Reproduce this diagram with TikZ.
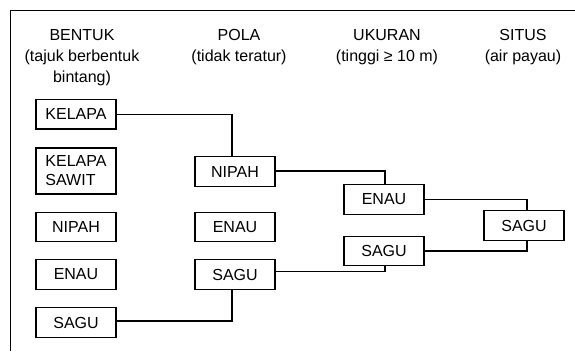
\documentclass[tikz,border=0pt]{standalone}
\usepackage{fontspec}
\setmainfont{Liberation Sans}
\begin{document}
\begin{tikzpicture}[x=1pt,y=-1pt,
  box/.style={draw, line width=1.2pt, minimum width=80pt, minimum height=29.5pt,
              inner sep=0pt, font=\fontsize{16}{19}\selectfont},
  head/.style={align=center, anchor=north, inner sep=0pt,
               font=\fontsize{16}{21}\selectfont},
  link/.style={line width=1.2pt}]
\useasboundingbox (0,0) rectangle (575,351);
% open frame: top and left edges only
\draw[line width=1.4pt] (575,10.5) -- (10.5,10.5) -- (10.5,351);

% column headers
\node[head] (hbentuk) at (82,29.5) {BENTUK\\(tajuk berbentuk\\bintang)};
\node[head] (hpola)   at (239,29.5) {POLA\\(tidak teratur)};
\node[head] (hukuran) at (387,29.5) {UKURAN\\(tinggi \char"2265{} 10 m)};
\node[head] (hsitus)  at (523,29.5) {SITUS\\(air payau)};

% column 1
\node[box] (b1kelapa) at (76,114.3) {KELAPA};
\node[box, minimum height=46pt, align=left] (b1sawit) at (76,171) {KELAPA\\SAWIT};
\node[box] (b1nipah) at (76,227) {NIPAH};
\node[box] (b1enau)  at (76,274.5) {ENAU};
\node[box] (b1sagu)  at (76,322.5) {SAGU};

% column 2
\node[box] (c2nipah) at (235,171.5) {NIPAH};
\node[box] (c2enau)  at (235,227) {ENAU};
\node[box] (c2sagu)  at (235,274.5) {SAGU};

% column 3
\node[box] (d3enau) at (384,199.5) {ENAU};
\node[box] (d3sagu) at (384,251) {SAGU};

% column 4
\node[box] (e4sagu) at (524,225.5) {SAGU};

% bracket connectors
\draw[link] (b1kelapa.east) -| ([xshift=-3pt]c2nipah.north);
\draw[link] ([yshift=1.5pt]b1sagu.east) -| ([xshift=-3pt]c2sagu.south);
\draw[link] ([yshift=0.5pt]c2nipah.east) -| ([xshift=1pt]d3enau.north);
\draw[link] ([yshift=3pt]c2sagu.east) -| ([xshift=1pt]d3sagu.south);
\draw[link] (d3enau.east) -| ([xshift=3pt]e4sagu.north);
\draw[link] (d3sagu.east) -| ([xshift=3pt]e4sagu.south);
\end{tikzpicture}
\end{document}
